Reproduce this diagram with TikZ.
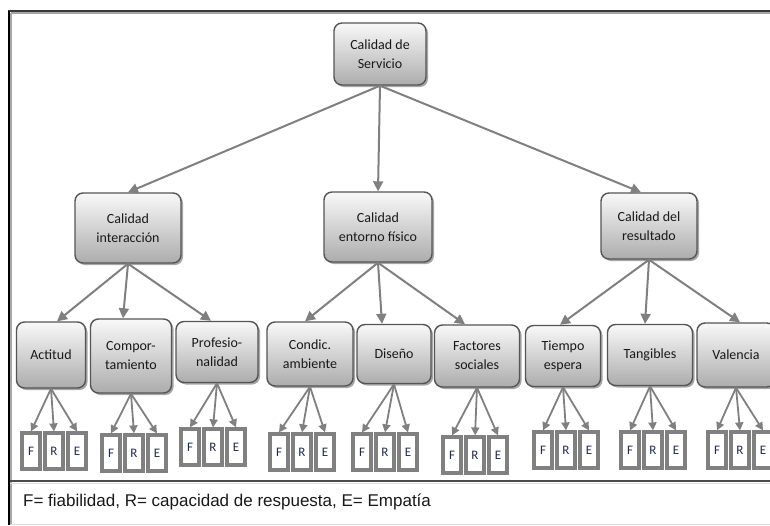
\documentclass[tikz,border=0pt]{standalone}
\usepackage{fontspec}
\newfontfamily\boxfont{Carlito}
\newfontfamily\legendfont{Liberation Sans}
\usetikzlibrary{arrows.meta,shadows}
\definecolor{framedark}{HTML}{3A3A3A}
\definecolor{linegray}{HTML}{808080}
\definecolor{boxedge}{HTML}{555555}
\definecolor{lettercol}{HTML}{1F2A55}
\tikzset{
  catbox/.style={rounded corners=8pt, draw=boxedge, line width=1.4pt,
    top color=gray!5, bottom color=gray!65, align=center, inner sep=1pt,
    font=\boxfont\fontsize{14}{19}\selectfont, text=black!90,
    drop shadow={shadow xshift=2pt, shadow yshift=-2pt, opacity=0.35, fill=black}},
  dimbox/.style={draw=linegray, line width=3.2pt, fill=white,
    minimum width=18pt, minimum height=36pt, inner sep=0pt,
    font=\boxfont\fontsize{13}{15}\selectfont, text=lettercol},
  arr/.style={draw=linegray, line width=2pt, -{Triangle[length=10pt,width=10pt]}},
  leafarr/.style={draw=linegray, line width=1.8pt, -{Triangle[length=8pt,width=8pt]}}
}
\begin{document}
\begin{tikzpicture}[x=1pt, y=-1pt]
\useasboundingbox (0,0) rectangle (770,525);
\clip (0,0) rectangle (770,525);
\fill[white] (0,0) rectangle (770,525);

% frame and legend strip
\draw[gray!70, line width=1.5pt] (11,13) -- (770,13);
\draw[framedark, line width=2pt] (8,11) -- (770,11);
\draw[gray!70, line width=1.5pt] (11,13) -- (11,525);
\draw[black, line width=2pt] (9,11) -- (9,525);
\draw[gray!60!black, line width=2pt] (10,481) -- (770,481);
\draw[gray!25, line width=1pt] (10,483.5) -- (770,483.5);
\draw[gray!30, line width=1pt] (10,524) -- (770,524);

% root
\node[catbox, minimum width=92pt, minimum height=62pt] (root) at (380,54) {Calidad de\\Servicio};

% second level
\node[catbox, minimum width=106pt, minimum height=70pt] (inter) at (128,228) {Calidad\\interacción};
\node[catbox, minimum width=108pt, minimum height=70pt] (ento) at (378,227) {Calidad\\entorno físico};
\node[catbox, minimum width=96pt, minimum height=66pt] (resu) at (649,226) {Calidad del\\resultado};

% third level
\node[catbox, minimum width=69pt, minimum height=66pt] (acti) at (51,355) {Actitud};
\node[catbox, minimum width=81pt, minimum height=74pt] (comp) at (131,356) {Compor-\\tamiento};
\node[catbox, minimum width=82pt, minimum height=61pt] (prof) at (217,352) {Profesio-\\nalidad};
\node[catbox, minimum width=86pt, minimum height=64pt] (cond) at (310,354) {Condic.\\ambiente};
\node[catbox, minimum width=74pt, minimum height=59pt] (dise) at (394,354) {Diseño};
\node[catbox, minimum width=85pt, minimum height=62pt] (fact) at (477,356) {Factores\\sociales};
\node[catbox, minimum width=75pt, minimum height=61pt] (tiem) at (563,356) {Tiempo\\espera};
\node[catbox, minimum width=85pt, minimum height=61pt] (tang) at (650,355) {Tangibles};
\node[catbox, minimum width=78pt, minimum height=64pt] (vale) at (736,355) {Valencia};

% connectors of the upper levels
\draw[arr] (root.south) -- (inter.north);
\draw[arr] (root.south) -- (ento.north);
\draw[arr] (root.south) -- ([xshift=-8pt]resu.north);
\draw[arr] (inter.south) -- ([xshift=6pt]acti.north);
\draw[arr] (inter.south) -- ([xshift=-8pt]comp.north);
\draw[arr] (inter.south) -- ([xshift=-6pt]prof.north);
\draw[arr] (ento.south) -- ([xshift=-5pt]cond.north);
\draw[arr] (ento.south) -- ([xshift=-12pt]dise.north);
\draw[arr] (ento.south) -- ([xshift=-12pt]fact.north);
\draw[arr] (resu.south) -- ([xshift=-3pt]tiem.north);
\draw[arr] (resu.south) -- ([xshift=-5pt]tang.north);
\draw[arr] (resu.south) -- ([xshift=4pt]vale.north);

% F / R / E boxes under each dimension
\foreach \pn/\cx/\cy in {acti/54/451, comp/134/453, prof/213/447, cond/302/452,
    dise/385/452, fact/475/455, tiem/566/450, tang/653/450, vale/740/450}{
  \node[dimbox] (\pn F) at (\cx-23,\cy) {F};
  \node[dimbox] (\pn R) at (\cx,\cy) {R};
  \node[dimbox] (\pn E) at (\cx+23,\cy) {E};
  \draw[leafarr] (\pn.south) -- (\pn F.north);
  \draw[leafarr] (\pn.south) -- (\pn R.north);
  \draw[leafarr] (\pn.south) -- (\pn E.north);
}

% legend
\node[anchor=west, inner sep=0pt, font=\legendfont\fontsize{17}{20}\selectfont, text=black!90] (legend) at (23,502)
  {F= fiabilidad, R= capacidad de respuesta, E= Empatía};
\end{tikzpicture}
\end{document}
